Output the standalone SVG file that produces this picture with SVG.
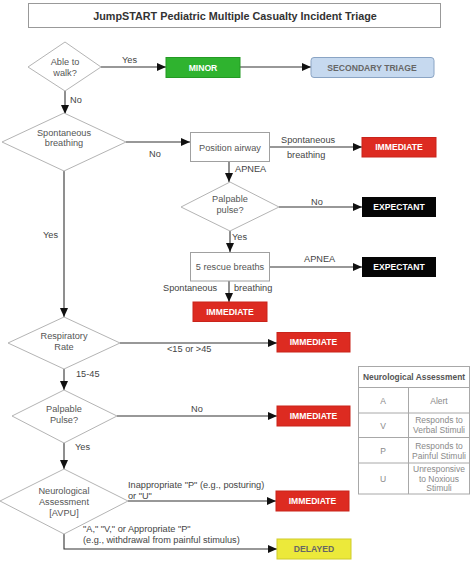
<svg xmlns="http://www.w3.org/2000/svg" width="474" height="565" viewBox="0 0 474 565">
<style>
text{font-family:"Liberation Sans",Arial,sans-serif}
.dia{fill:#fff;stroke:#b4b4b4;stroke-width:1}
.box{fill:#fff;stroke:#a0a0a0;stroke-width:1}
.nt{font-size:9.2px;fill:#555;text-anchor:middle}
.lb{font-size:9.2px;fill:#444}
.res{font-size:8.6px;font-weight:bold;fill:#fff;text-anchor:middle}
.red{fill:#dd2b21;stroke:#c9241b}
.blk{fill:#050505}
.ln{fill:none;stroke:#333;stroke-width:1.1;marker-end:url(#ah)}
.tb{fill:none;stroke:#a8a8a8;stroke-width:1}
.tt{font-size:8.5px;fill:#8a8a8a;text-anchor:middle}
</style>
<defs>
<marker id="ah" markerWidth="9" markerHeight="8" refX="9" refY="4" orient="auto" markerUnits="userSpaceOnUse">
<path d="M0,0 L9,4 L0,8 z" fill="#111"/>
</marker>
</defs>
<rect width="474" height="565" fill="#fff"/>

<g id="title">
<rect x="28.5" y="3.5" width="412" height="24" fill="#fff" stroke="#999"/>
<text x="235" y="19.5" font-size="10.8" font-weight="bold" fill="#333" text-anchor="middle">JumpSTART Pediatric Multiple Casualty Incident Triage</text>
</g>

<g id="connectors">
<path class="ln" d="M101,67 H166"/>
<path class="ln" d="M240,67 H311"/>
<path class="ln" d="M65,91 V114"/>
<path class="ln" d="M126,142 H190"/>
<path class="ln" d="M270,147 H362"/>
<path class="ln" d="M229,162 V182"/>
<path class="ln" d="M279,207 H362"/>
<path class="ln" d="M230,231 V252"/>
<path class="ln" d="M270,267 H362"/>
<path class="ln" d="M229,281 V302"/>
<path class="ln" d="M64,171 V317"/>
<path class="ln" d="M120,343 H277"/>
<path class="ln" d="M64,369 V390"/>
<path class="ln" d="M117,416 H277"/>
<path class="ln" d="M64,443 V469"/>
<path class="ln" d="M128,501 H276"/>
<path class="ln" d="M64,534 V549 H277"/>
<text class="lb" x="122" y="63">Yes</text>
<text class="lb" x="70" y="103">No</text>
<text class="lb" x="149" y="157">No</text>
<text class="lb" x="281" y="143">Spontaneous</text>
<text class="lb" x="287" y="158">breathing</text>
<text class="lb" x="235" y="172">APNEA</text>
<text class="lb" x="311" y="205">No</text>
<text class="lb" x="232" y="240">Yes</text>
<text class="lb" x="304" y="262">APNEA</text>
<text class="lb" x="163" y="291">Spontaneous</text>
<text class="lb" x="234" y="291">breathing</text>
<text class="lb" x="43" y="238">Yes</text>
<text class="lb" x="167" y="352">&lt;15 or &gt;45</text>
<text class="lb" x="76" y="377">15-45</text>
<text class="lb" x="191" y="412">No</text>
<text class="lb" x="75" y="450">Yes</text>
<text class="lb" x="128" y="488">Inappropriate "P" (e.g., posturing)</text>
<text class="lb" x="128" y="499">or "U"</text>
<text class="lb" x="83" y="532">"A," "V," or Appropriate "P"</text>
<text class="lb" x="83" y="543">(e.g., withdrawal from painful stimulus)</text>
</g>

<g id="walk">
<polygon class="dia" points="65,42 101,67 65,91 28,67"/>
<text class="nt" x="65" y="65">Able to</text>
<text class="nt" x="65" y="76">walk?</text>
</g>
<g id="minor">
<rect x="166" y="57.5" width="74" height="20" fill="#2fb32f" stroke="#249a24"/>
<text class="res" x="203" y="70.8">MINOR</text>
</g>
<g id="secondary">
<rect x="311" y="57.5" width="123" height="20" rx="3" fill="#c6d9ef" stroke="#8aa4c4"/>
<text x="372" y="70.8" font-size="8.6" font-weight="bold" fill="#666" text-anchor="middle">SECONDARY TRIAGE</text>
</g>
<g id="spont">
<polygon class="dia" points="64,113 126,142 64,171 2,142"/>
<text class="nt" x="64" y="136">Spontaneous</text>
<text class="nt" x="64" y="146">breathing</text>
</g>
<g id="airway">
<rect class="box" x="190.5" y="132.5" width="79" height="29"/>
<text class="nt" x="230" y="150.5">Position airway</text>
</g>
<g id="imm1">
<rect class="red" x="362" y="137.5" width="74" height="19.5"/>
<text class="res" x="399" y="150.3">IMMEDIATE</text>
</g>
<g id="pulse1">
<polygon class="dia" points="230,182 279,207 230,231 181,207"/>
<text class="nt" x="230" y="202">Palpable</text>
<text class="nt" x="230" y="213">pulse?</text>
</g>
<g id="exp1">
<rect class="blk" x="362" y="197" width="74" height="20"/>
<text class="res" x="399" y="210.3">EXPECTANT</text>
</g>
<g id="rescue">
<rect class="box" x="190.5" y="252.5" width="79" height="28.5"/>
<text class="nt" x="230" y="270">5 rescue breaths</text>
</g>
<g id="exp2">
<rect class="blk" x="362" y="257" width="74" height="20"/>
<text class="res" x="399" y="270.3">EXPECTANT</text>
</g>
<g id="imm2">
<rect class="red" x="193" y="302" width="74" height="19.5"/>
<text class="res" x="230" y="314.8">IMMEDIATE</text>
</g>
<g id="resp">
<polygon class="dia" points="64,317 120,343 64,369 8,343"/>
<text class="nt" x="64" y="339">Respiratory</text>
<text class="nt" x="64" y="350">Rate</text>
</g>
<g id="imm3">
<rect class="red" x="277" y="332.5" width="73" height="19.5"/>
<text class="res" x="313.5" y="345.3">IMMEDIATE</text>
</g>
<g id="pulse2">
<polygon class="dia" points="64,390 117,416 64,443 12,416"/>
<text class="nt" x="64" y="412">Palpable</text>
<text class="nt" x="64" y="423">Pulse?</text>
</g>
<g id="imm4">
<rect class="red" x="277" y="406" width="73" height="20"/>
<text class="res" x="313.5" y="419.3">IMMEDIATE</text>
</g>
<g id="neuro">
<polygon class="dia" points="64,469 128,501 64,534 0,501"/>
<text class="nt" x="64" y="494">Neurological</text>
<text class="nt" x="64" y="505">Assessment</text>
<text class="nt" x="64" y="516">[AVPU]</text>
</g>
<g id="imm5">
<rect class="red" x="276" y="491" width="73" height="20"/>
<text class="res" x="312.5" y="504.3">IMMEDIATE</text>
</g>
<g id="delayed">
<rect x="277" y="539" width="74" height="20" fill="#ece93a" stroke="#cfcb2a"/>
<text x="314" y="552.3" font-size="8.6" font-weight="bold" fill="#666" text-anchor="middle">DELAYED</text>
</g>

<g id="table">
<rect class="tb" x="358.5" y="366.5" width="111" height="127.5"/>
<path class="tb" d="M358.5,387.5 H469.5 M358.5,413 H469.5 M358.5,437.5 H469.5 M358.5,463 H469.5 M408.5,387.5 V494"/>
<text x="414" y="380" font-size="8.4" font-weight="bold" fill="#555" text-anchor="middle">Neurological Assessment</text>
<text class="tt" x="383" y="403.5">A</text>
<text class="tt" x="439" y="403.5">Alert</text>
<text class="tt" x="383" y="428.5">V</text>
<text class="tt" x="439" y="423">Responds to</text>
<text class="tt" x="439" y="433">Verbal Stimuli</text>
<text class="tt" x="383" y="453.5">P</text>
<text class="tt" x="439" y="448.5">Responds to</text>
<text class="tt" x="439" y="458.5">Painful Stimuli</text>
<text class="tt" x="383" y="481.5">U</text>
<text class="tt" x="439" y="472">Unresponsive</text>
<text class="tt" x="439" y="481.5">to Noxious</text>
<text class="tt" x="439" y="491">Stimuli</text>
</g>
</svg>
